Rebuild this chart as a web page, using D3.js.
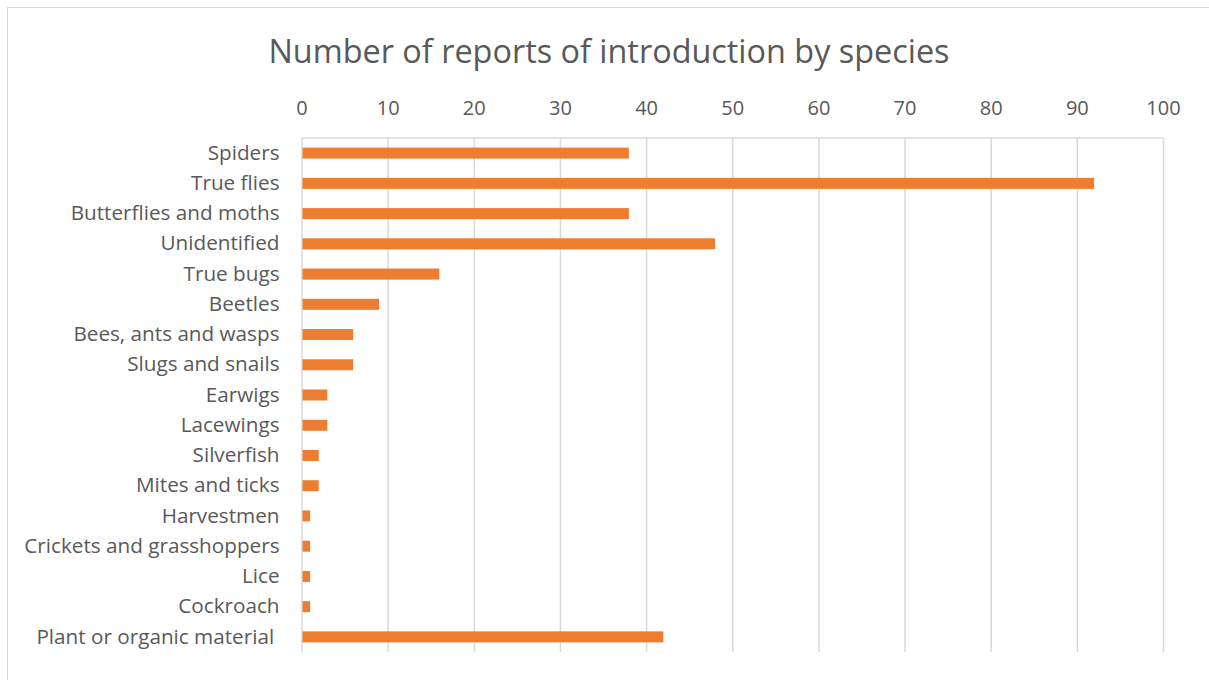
<!DOCTYPE html>
<html><head><meta charset="utf-8">
<script src="https://cdn.jsdelivr.net/npm/d3@7"></script>
<style>body{margin:0;background:#fff}svg{display:block}text{font-family:"Open Sans",sans-serif;fill:#595959;white-space:pre}</style>
</head><body><svg id="c" width="1209" height="680"></svg>
<script>
const categories = ["Spiders","True flies","Butterflies and moths","Unidentified","True bugs","Beetles","Bees, ants and wasps","Slugs and snails","Earwigs","Lacewings","Silverfish","Mites and ticks","Harvestmen","Crickets and grasshoppers","Lice","Cockroach","Plant or organic material "];
const values = [38,92,38,48,16,9,6,6,3,3,2,2,1,1,1,1,42];
const tickValues = [0,10,20,30,40,50,60,70,80,90,100];
const title = "Number of reports of introduction by species";

const svg = d3.select("#c");
svg.append("rect").attr("x",7.5).attr("y",7.5).attr("width",1220).attr("height",700)
  .attr("fill","#fff").attr("stroke","#d9d9d9");
const L=301.5,R=1163,T=138,B=652;
const x = d3.scaleLinear().domain([0,100]).range([L,R]);
const y = d3.scaleBand().domain(categories).range([T,B]).paddingInner(0.636).paddingOuter(0.318);

svg.append("text").attr("x",609).attr("y",63).attr("text-anchor","middle")
  .style("font-size","32.4px").text(title);

const xa = svg.append("g").attr("transform",`translate(0,${T})`)
  .call(d3.axisTop(x).tickValues(tickValues).tickSize(-(B-T)).tickPadding(23));
xa.select(".domain").remove();
xa.selectAll("line").attr("stroke","#d9d9d9").attr("stroke-width",1.5);
xa.selectAll("text").style("font-size","20px").attr("fill","#595959").attr("dy","0");
svg.append("line").attr("x1",L).attr("x2",R).attr("y1",T).attr("y2",T).attr("stroke","#d9d9d9").attr("stroke-width",1.5);

svg.selectAll("rect.bar").data(categories).enter().append("rect").attr("class","bar")
  .attr("x",x(0)+1).attr("y",d=>y(d)).attr("height",y.bandwidth())
  .attr("width",(d,i)=>x(values[i])-x(0)-1).attr("fill","#ED7D31");

const ya = svg.append("g").attr("transform",`translate(${L},0)`)
  .call(d3.axisLeft(y).tickSize(0).tickPadding(22));
ya.select(".domain").remove();
ya.selectAll("text").style("font-size","20.7px").attr("fill","#595959");
</script></body></html>
